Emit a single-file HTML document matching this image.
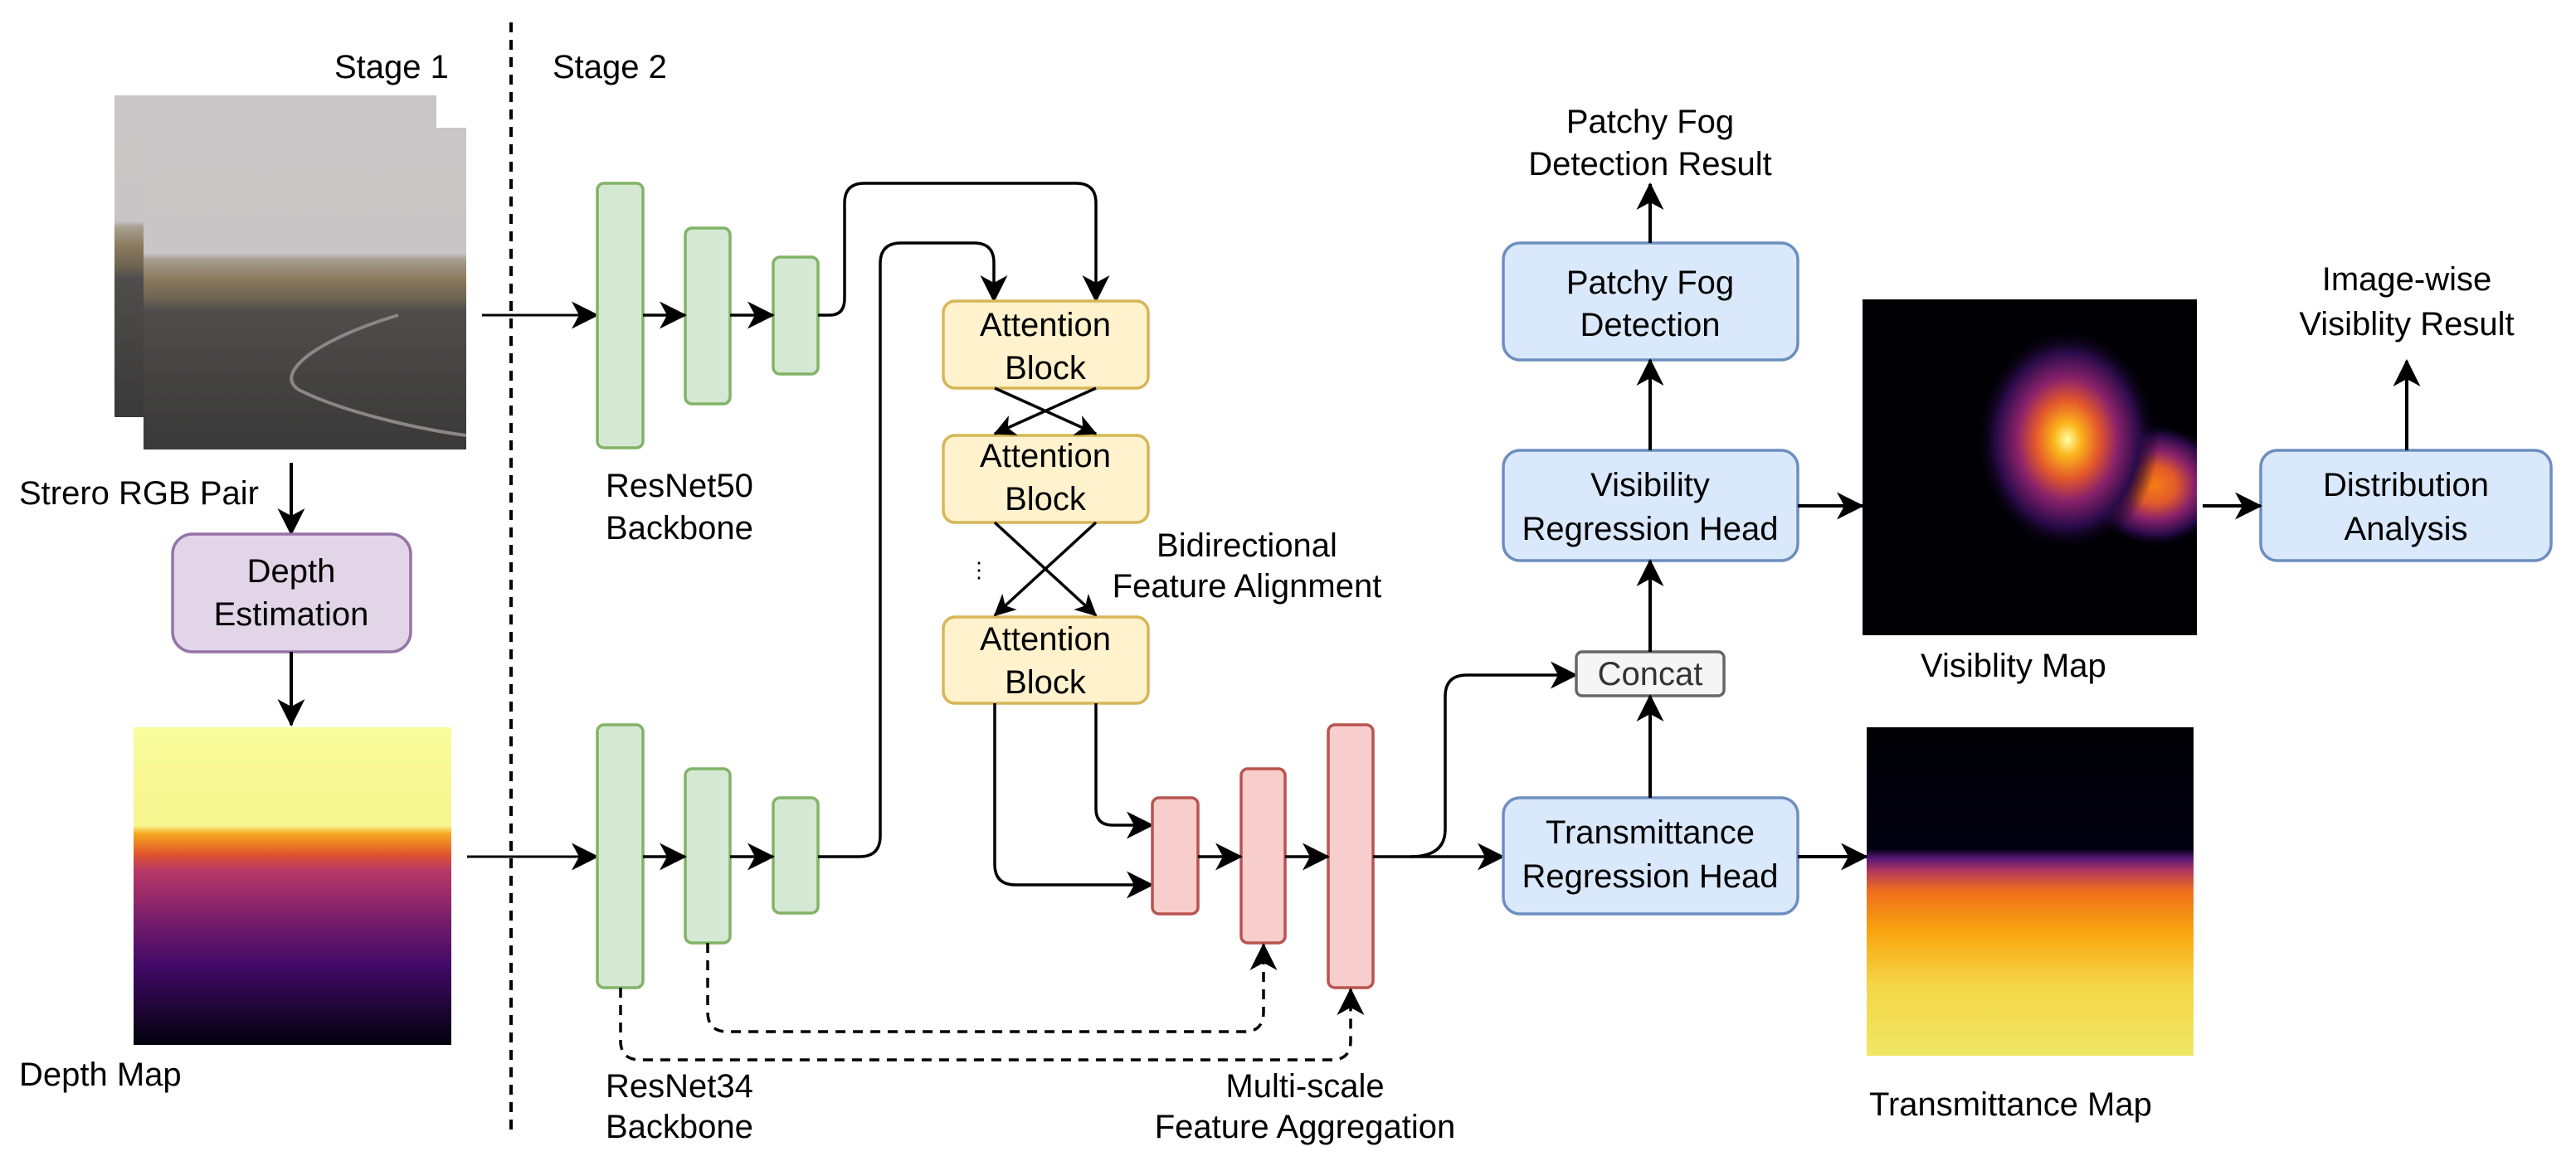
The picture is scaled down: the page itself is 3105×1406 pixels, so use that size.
<!DOCTYPE html>
<html><head><meta charset="utf-8"><style>
html,body{margin:0;padding:0;background:#fff;}
svg{display:block;}
text{font-family:"Liberation Sans",Arial,sans-serif;font-size:40px;fill:#000;}
</style></head><body>
<svg width="3105" height="1406" viewBox="0 0 3105 1406" xmlns="http://www.w3.org/2000/svg">
<defs>
<marker id="a" markerUnits="userSpaceOnUse" viewBox="0 0 33 33" markerWidth="33" markerHeight="33" refX="31" refY="16.5" orient="auto">
<path d="M0,0 L33,16.5 L0,33 L9,16.5 Z" fill="#000"/></marker>
<marker id="s" markerUnits="userSpaceOnUse" viewBox="0 0 33 33" markerWidth="26" markerHeight="26" refX="31" refY="16.5" orient="auto">
<path d="M0,0 L33,16.5 L0,33 L9,16.5 Z" fill="#000"/></marker>
<linearGradient id="road" x1="0" y1="0" x2="0" y2="1">
<stop offset="0" stop-color="#cac6c7"/><stop offset="0.39" stop-color="#c9c5c6"/>
<stop offset="0.41" stop-color="#a79e8f"/><stop offset="0.47" stop-color="#8b7a5c"/>
<stop offset="0.53" stop-color="#6d6452"/><stop offset="0.57" stop-color="#4e4d4c"/>
<stop offset="1" stop-color="#3a3939"/></linearGradient>
<linearGradient id="depth" x1="0" y1="0" x2="0" y2="1">
<stop offset="0" stop-color="#f9fc9b"/><stop offset="0.31" stop-color="#f6f58e"/>
<stop offset="0.335" stop-color="#f7a81f"/><stop offset="0.4" stop-color="#e0552e"/>
<stop offset="0.45" stop-color="#b83966"/><stop offset="0.6" stop-color="#7a1e6b"/>
<stop offset="0.75" stop-color="#420a68"/><stop offset="1" stop-color="#02010c"/></linearGradient>
<linearGradient id="trans" x1="0" y1="0" x2="0" y2="1">
<stop offset="0" stop-color="#000004"/><stop offset="0.37" stop-color="#020110"/>
<stop offset="0.4" stop-color="#5a1a78"/><stop offset="0.44" stop-color="#b53a5a"/>
<stop offset="0.5" stop-color="#f0701c"/><stop offset="0.62" stop-color="#f9a40e"/>
<stop offset="0.78" stop-color="#f4d547"/><stop offset="1" stop-color="#f0e764"/></linearGradient>
<radialGradient id="blob1" cx="0.5" cy="0.5" r="0.5">
<stop offset="0" stop-color="#fcffa4"/><stop offset="0.15" stop-color="#fbb41a"/>
<stop offset="0.35" stop-color="#e4582b"/><stop offset="0.55" stop-color="#8a226a"/>
<stop offset="0.78" stop-color="#2a0b4a"/><stop offset="1" stop-color="#000004" stop-opacity="0"/></radialGradient>
<radialGradient id="blob2" cx="0.5" cy="0.5" r="0.5">
<stop offset="0" stop-color="#f57d15"/><stop offset="0.3" stop-color="#e05a2a"/>
<stop offset="0.55" stop-color="#8a226a"/><stop offset="0.8" stop-color="#2a0b4a"/>
<stop offset="1" stop-color="#000004" stop-opacity="0"/></radialGradient>
<clipPath id="vclip"><rect x="2245" y="361" width="403" height="405"/></clipPath>
</defs>

<text x="403" y="94">Stage 1</text>
<text x="666" y="94">Stage 2</text>
<line x1="616" y1="27" x2="616" y2="1367" stroke="#000" stroke-width="4" stroke-dasharray="12,9"/>

<rect x="138" y="115" width="388" height="388" fill="url(#road)"/>
<rect x="173" y="154" width="389" height="388" fill="url(#road)"/>
<path d="M480,380 C380,410 330,450 360,470 C420,500 520,520 562,525" fill="none" stroke="#8a8884" stroke-width="4"/>
<text x="23" y="608">Strero RGB Pair</text>
<line x1="351" y1="558" x2="351" y2="644" stroke="#000" stroke-width="4" marker-end="url(#a)"/>
<rect x="208" y="644" width="287" height="142" rx="24" fill="#e1d5e7" stroke="#9673a6" stroke-width="3.5"/>
<text x="351" y="702" text-anchor="middle">Depth</text>
<text x="351" y="754" text-anchor="middle">Estimation</text>
<line x1="351" y1="786" x2="351" y2="874" stroke="#000" stroke-width="4" marker-end="url(#a)"/>
<rect x="161" y="877" width="383" height="383" fill="url(#depth)"/>
<text x="23" y="1309">Depth Map</text>

<line x1="581" y1="380" x2="720" y2="380" stroke="#000" stroke-width="3" marker-end="url(#a)"/>
<line x1="563" y1="1033" x2="720" y2="1033" stroke="#000" stroke-width="3" marker-end="url(#a)"/>

<g fill="#d5e8d4" stroke="#82b366" stroke-width="3.5">
<rect x="720" y="221" width="55" height="319" rx="8"/>
<rect x="826" y="275" width="54" height="212" rx="8"/>
<rect x="932" y="310" width="54" height="141" rx="8"/>
<rect x="720" y="874" width="55" height="317" rx="8"/>
<rect x="826" y="927" width="54" height="210" rx="8"/>
<rect x="932" y="962" width="54" height="139" rx="8"/>
</g>
<g stroke="#000" stroke-width="3.5" fill="none">
<line x1="775" y1="380" x2="826" y2="380" marker-end="url(#a)"/>
<line x1="880" y1="380" x2="932" y2="380" marker-end="url(#a)"/>
<line x1="775" y1="1033" x2="826" y2="1033" marker-end="url(#a)"/>
<line x1="880" y1="1033" x2="932" y2="1033" marker-end="url(#a)"/>
<path d="M986,380 L1000,380 Q1018,380 1018,360 L1018,245 Q1018,221 1042,221 L1297,221 Q1321,221 1321,245 L1321,363" marker-end="url(#a)"/>
<path d="M986,1033 L1036,1033 Q1061,1033 1061,1008 L1061,318 Q1061,293 1086,293 L1174,293 Q1198,293 1198,317 L1198,363" marker-end="url(#a)"/>
</g>
<text x="730" y="599">ResNet50</text>
<text x="730" y="650">Backbone</text>
<text x="730" y="1323">ResNet34</text>
<text x="730" y="1372">Backbone</text>

<g fill="#fff2cc" stroke="#d6b656" stroke-width="3.5">
<rect x="1137" y="363" width="247" height="105" rx="14"/>
<rect x="1137" y="525" width="247" height="105" rx="14"/>
<rect x="1137" y="744" width="247" height="104" rx="14"/>
</g>
<g text-anchor="middle">
<text x="1260" y="405">Attention</text><text x="1260" y="457">Block</text>
<text x="1260" y="563">Attention</text><text x="1260" y="615">Block</text>
<text x="1260" y="784">Attention</text><text x="1260" y="836">Block</text>
</g>
<g stroke="#000" stroke-width="3.5" fill="none">
<line x1="1199" y1="468" x2="1321" y2="523" marker-end="url(#s)"/>
<line x1="1321" y1="468" x2="1199" y2="523" marker-end="url(#s)"/>
<line x1="1199" y1="630" x2="1321" y2="742" marker-end="url(#s)"/>
<line x1="1321" y1="630" x2="1199" y2="742" marker-end="url(#s)"/>
<path d="M1321,848 L1321,975 Q1321,995 1341,995 L1389,995" marker-end="url(#a)"/>
<path d="M1199,848 L1199,1042 Q1199,1067 1224,1067 L1389,1067" marker-end="url(#a)"/>
</g>
<text x="1180" y="696" text-anchor="middle" style="font-size:26px">⋮</text>
<text x="1503" y="671" text-anchor="middle">Bidirectional</text>
<text x="1503" y="720" text-anchor="middle">Feature Alignment</text>

<g fill="#f8cecc" stroke="#b85450" stroke-width="3.5">
<rect x="1389" y="962" width="55" height="140" rx="8"/>
<rect x="1496" y="927" width="53" height="210" rx="8"/>
<rect x="1601" y="874" width="54" height="317" rx="8"/>
</g>
<g stroke="#000" stroke-width="3.5" fill="none">
<line x1="1444" y1="1033" x2="1496" y2="1033" marker-end="url(#a)"/>
<line x1="1549" y1="1033" x2="1601" y2="1033" marker-end="url(#a)"/>
<line x1="1655" y1="1033" x2="1812" y2="1033" marker-end="url(#a)"/>
<path d="M1700,1033 Q1742,1033 1742,1000 L1742,840 Q1742,814 1768,814 L1900,814" marker-end="url(#a)"/>
<path d="M853,1137 L853,1220 Q853,1244 877,1244 L1500,1244 Q1523,1244 1523,1220 L1523,1139" stroke-dasharray="12,9" marker-end="url(#a)"/>
<path d="M748,1191 L748,1255 Q748,1278 772,1278 L1605,1278 Q1628,1278 1628,1255 L1628,1193" stroke-dasharray="12,9" marker-end="url(#a)"/>
</g>
<text x="1573" y="1323" text-anchor="middle">Multi-scale</text>
<text x="1573" y="1372" text-anchor="middle">Feature Aggregation</text>

<g fill="#dae8fc" stroke="#6c8ebf" stroke-width="3.5">
<rect x="1812" y="293" width="355" height="141" rx="20"/>
<rect x="1812" y="543" width="355" height="133" rx="20"/>
<rect x="1812" y="962" width="355" height="140" rx="20"/>
<rect x="2725" y="543" width="350" height="133" rx="20"/>
</g>
<rect x="1900" y="786" width="178" height="53" rx="7" fill="#f5f5f5" stroke="#666" stroke-width="3.5"/>
<text x="1989" y="826" text-anchor="middle" style="fill:#333">Concat</text>
<g text-anchor="middle">
<text x="1989" y="160">Patchy Fog</text><text x="1989" y="211">Detection Result</text>
<text x="1989" y="354">Patchy Fog</text><text x="1989" y="405">Detection</text>
<text x="1989" y="598">Visibility</text><text x="1989" y="651">Regression Head</text>
<text x="1989" y="1017">Transmittance</text><text x="1989" y="1070">Regression Head</text>
<text x="2900" y="598">Distribution</text><text x="2900" y="651">Analysis</text>
<text x="2901" y="350">Image-wise</text><text x="2901" y="404">Visiblity Result</text>
</g>
<g stroke="#000" stroke-width="4" fill="none">
<line x1="1989" y1="962" x2="1989" y2="839" marker-end="url(#a)"/>
<line x1="1989" y1="786" x2="1989" y2="676" marker-end="url(#a)"/>
<line x1="1989" y1="543" x2="1989" y2="434" marker-end="url(#a)"/>
<line x1="1989" y1="293" x2="1989" y2="222" marker-end="url(#a)"/>
<line x1="2167" y1="610" x2="2245" y2="610" marker-end="url(#a)"/>
<line x1="2167" y1="1033" x2="2250" y2="1033" marker-end="url(#a)"/>
<line x1="2655" y1="610" x2="2725" y2="610" marker-end="url(#a)"/>
<line x1="2901" y1="543" x2="2901" y2="435" marker-end="url(#a)"/>
</g>

<rect x="2245" y="361" width="403" height="405" fill="#000004"/>
<g clip-path="url(#vclip)">
<ellipse cx="2598" cy="585" rx="85" ry="75" fill="url(#blob2)"/>
<ellipse cx="2492" cy="530" rx="110" ry="135" fill="url(#blob1)"/>
</g>
<text x="2315" y="816">Visiblity Map</text>

<rect x="2250" y="877" width="394" height="396" fill="url(#trans)"/>
<text x="2253" y="1345">Transmittance Map</text>
</svg>
</body></html>
